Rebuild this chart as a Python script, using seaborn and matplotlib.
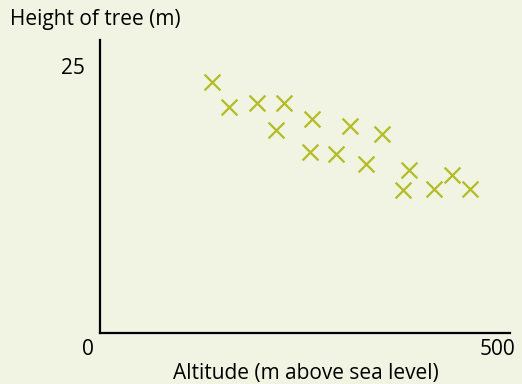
import matplotlib
matplotlib.use("Agg")
import matplotlib.pyplot as plt
import matplotlib.transforms as mtransforms
import seaborn as sns
import pandas as pd

# altitude (m) and tree height (m)
altitude = [137, 157, 192, 224, 215, 258, 256, 288, 305, 324, 344, 377, 370, 407, 429, 451]
height = [23.5, 21.2, 21.5, 21.5, 19.0, 20.0, 16.9, 16.8, 19.4, 15.8, 18.6, 15.3, 13.4, 13.5, 14.8, 13.5]
x_ticks = [0, 500]
y_ticks = [25]

bg = "#f1f4e3"
mark = "#b3bc22"
fs = 15

sns.set_style("white")
plt.rcParams["font.family"] = ["Open Sans", "DejaVu Sans"]
plt.rcParams["text.color"] = "black"
plt.rcParams["xtick.color"] = "black"
plt.rcParams["ytick.color"] = "black"

df = pd.DataFrame({"altitude": altitude, "height": height})

fig = plt.figure(figsize=(5.22, 3.84), dpi=100, facecolor=bg)
ax = fig.add_axes([100 / 522, 51 / 384, 410 / 522, 293 / 384])
ax.set_facecolor(bg)

sns.scatterplot(data=df, x="altitude", y="height", ax=ax, marker="x",
                s=130, linewidth=1.6, color=mark)

ax.set_xlim(0, 500)
ax.set_ylim(0, 27.43)
for side in ["top", "right"]:
    ax.spines[side].set_visible(False)
for side in ["left", "bottom"]:
    ax.spines[side].set_color("black")
    ax.spines[side].set_linewidth(1.6)

ax.set_xticks(x_ticks)
ax.set_xticklabels([str(v) for v in x_ticks], fontsize=fs)
ax.set_yticks(y_ticks)
ax.set_yticklabels([str(v) for v in y_ticks], fontsize=fs)
ax.tick_params(axis="both", length=0)
ax.tick_params(axis="y", pad=11)
ax.tick_params(axis="x", pad=4)

# nudge the x labels to where they sit in the original
shifts = [-12, -13]
for lab, dx in zip(ax.get_xticklabels(), shifts):
    lab.set_transform(lab.get_transform() + mtransforms.ScaledTranslation(dx / 100, 0, fig.dpi_scale_trans))

ax.set_xlabel("")
ax.set_ylabel("")
fig.text(10 / 522, 1 - 20 / 384, "Height of tree (m)", fontsize=fs, ha="left", va="center")
fig.text(306 / 522, 1 - 373 / 384, "Altitude (m above sea level)", fontsize=fs, ha="center", va="center")

fig.savefig("out.png", dpi=100, facecolor=bg)
